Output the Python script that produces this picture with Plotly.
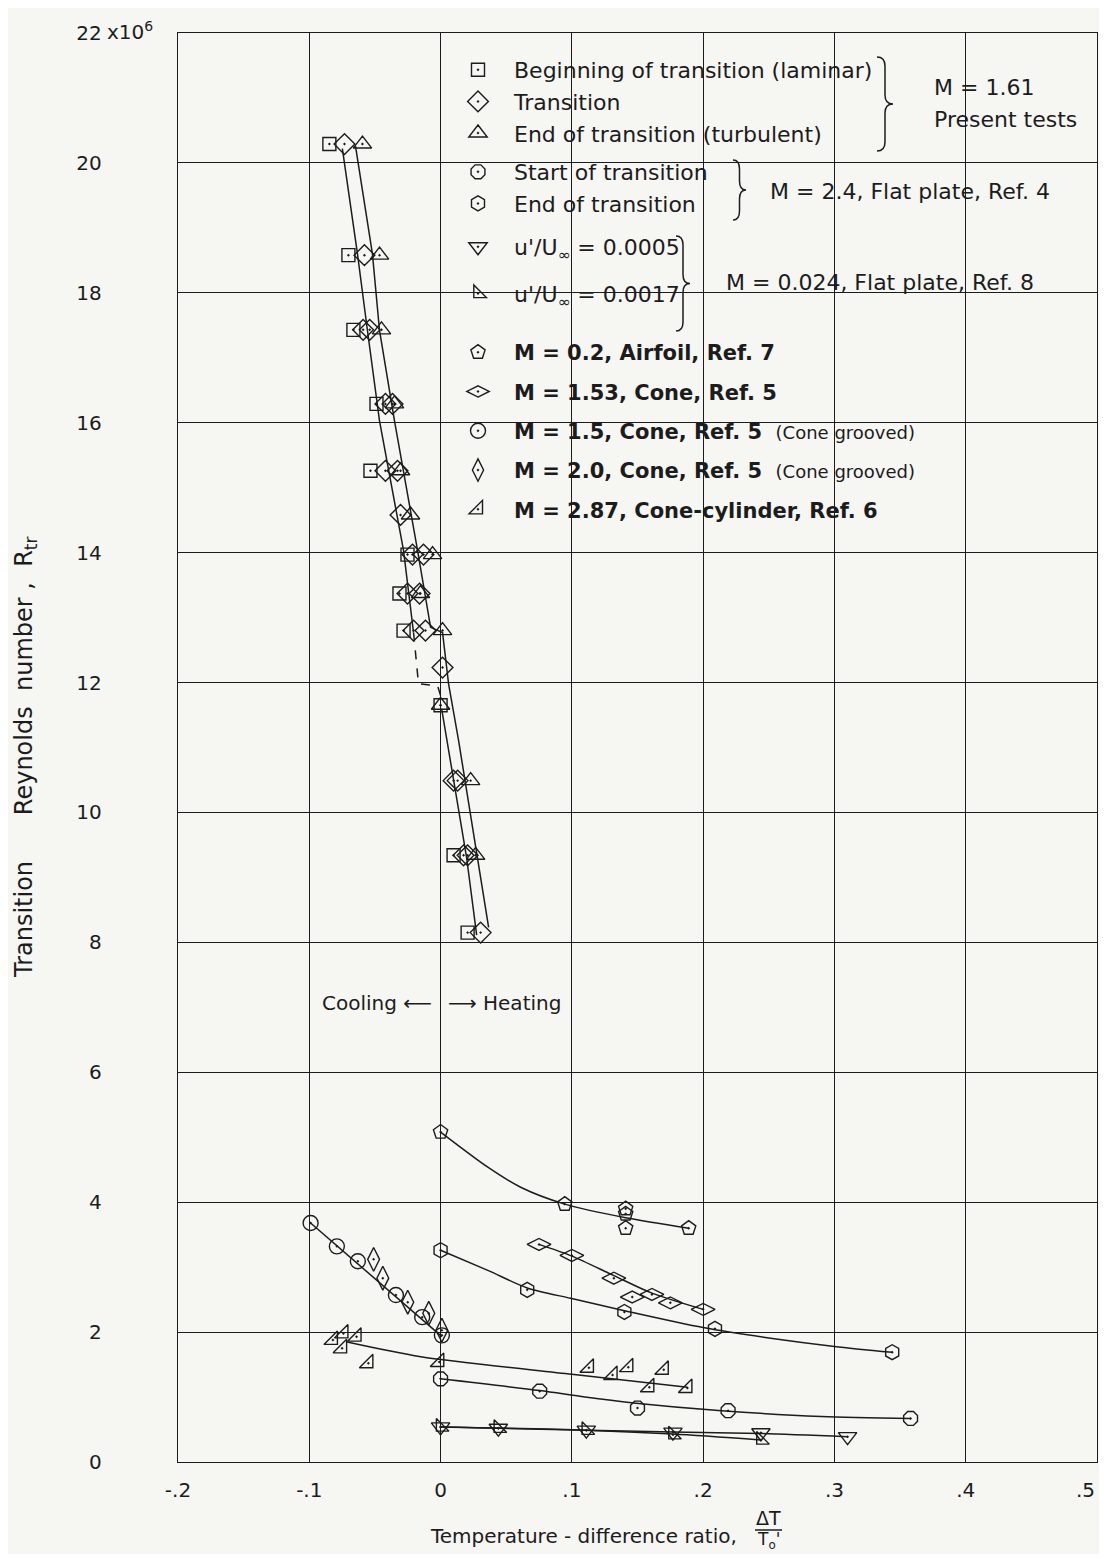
import plotly.graph_objects as go

# ---------------- data ----------------
# Present tests, M = 1.61
beg_x = [-0.0847, -0.0702, -0.0664, -0.0488, -0.0534, -0.0252, -0.0313, -0.0282, 0.0, 0.0099, 0.0206]
beg_y = [20.29, 18.58, 17.43, 16.29, 15.26, 13.97, 13.37, 12.80, 11.65, 9.34, 8.15]
tr_x = [-0.0732, -0.0580, -0.0590, -0.0540, -0.0420, -0.0366, -0.0420, -0.0328, -0.0305, -0.0214, -0.0130,
        -0.0252, -0.0160, -0.0206, -0.0115, 0.0015, 0.0099, 0.0130, 0.0175, 0.0206, 0.0305]
tr_y = [20.29, 18.58, 17.43, 17.43, 16.29, 16.29, 15.26, 15.26, 14.58, 13.97, 13.97,
        13.37, 13.37, 12.80, 12.80, 12.23, 10.49, 10.49, 9.34, 9.34, 8.15]
end_x = [-0.0595, -0.0465, -0.0450, -0.0351, -0.0305, -0.0229, -0.0061, -0.0153, 0.0015, 0.0, 0.0229, 0.0267]
end_y = [20.29, 18.58, 17.43, 16.29, 15.26, 14.58, 13.97, 13.37, 12.80, 11.65, 10.49, 9.34]

# faired curves through the present tests
curveL_x = [-0.0748, -0.0633, -0.0557, -0.0465, -0.0282, -0.0206]
curveL_y = [20.22, 18.60, 17.42, 16.03, 14.03, 12.77]
dashL_x = [-0.0206, -0.0168, -0.0023, 0.0]
dashL_y = [12.77, 11.98, 11.95, 11.80]
curveL2_x = [0.0008, 0.0099, 0.0198, 0.0275]
curveL2_y = [11.60, 10.48, 9.31, 8.11]
curveR_x = [-0.0648, -0.0519, -0.0465, -0.0351, -0.0175, -0.0076, 0.0015, 0.0061, 0.0137, 0.0366]
curveR_y = [20.26, 18.60, 17.42, 16.03, 14.03, 12.85, 12.77, 11.98, 11.11, 8.23]

# M = 2.4, flat plate, Ref. 4
start24_x = [0.0, 0.0755, 0.150, 0.219, 0.358]
start24_y = [1.28, 1.09, 0.83, 0.79, 0.67]
start24_cx = [0.0, 0.0755, 0.110, 0.147, 0.214, 0.290, 0.358]
start24_cy = [1.28, 1.10, 1.00, 0.91, 0.79, 0.70, 0.67]
end24_x = [0.0, 0.066, 0.140, 0.209, 0.344]
end24_y = [3.26, 2.65, 2.31, 2.05, 1.69]
end24_cx = [0.0, 0.036, 0.066, 0.099, 0.140, 0.200, 0.250, 0.300, 0.344]
end24_cy = [3.26, 2.95, 2.68, 2.52, 2.33, 2.07, 1.91, 1.78, 1.69]

# M = 0.024, flat plate, Ref. 8
u05_x = [0.0, 0.044, 0.111, 0.177, 0.244, 0.310]
u05_y = [0.54, 0.52, 0.49, 0.46, 0.45, 0.39]
u05_cx = [0.0, 0.111, 0.177, 0.244, 0.310]
u05_cy = [0.54, 0.49, 0.46, 0.44, 0.39]
u17_x = [0.0, 0.044, 0.111, 0.177, 0.244]
u17_y = [0.54, 0.52, 0.49, 0.42, 0.34]
u17_cx = [0.0, 0.111, 0.177, 0.244]
u17_cy = [0.54, 0.49, 0.43, 0.34]

# M = 0.2, airfoil, Ref. 7
air_x = [0.0, 0.0946, 0.141, 0.141, 0.141, 0.189]
air_y = [5.08, 3.97, 3.90, 3.82, 3.60, 3.60]
air_cx = [0.0, 0.036, 0.061, 0.0946, 0.141, 0.189]
air_cy = [5.08, 4.54, 4.23, 3.97, 3.76, 3.60]

# M = 1.53, cone, Ref. 5
c153_x = [0.075, 0.100, 0.132, 0.146, 0.161, 0.175, 0.200]
c153_y = [3.35, 3.18, 2.83, 2.54, 2.58, 2.45, 2.35]
c153_cx = [0.075, 0.100, 0.132, 0.161, 0.200]
c153_cy = [3.35, 3.17, 2.87, 2.60, 2.35]

# M = 1.5 and 2.0, grooved cones, Ref. 5
c15_x = [-0.099, -0.079, -0.063, -0.034, -0.014, 0.001]
c15_y = [3.68, 3.32, 3.09, 2.57, 2.23, 1.95]
c20_x = [-0.051, -0.044, -0.025, -0.009, 0.001]
c20_y = [3.12, 2.83, 2.46, 2.29, 2.03]
cool_cx = [-0.099, 0.001]
cool_cy = [3.68, 1.93]

# M = 2.87, cone-cylinder, Ref. 6
c287_x = [-0.082, -0.074, -0.064, -0.075, -0.055, -0.001, 0.113, 0.131, 0.143, 0.170, 0.159, 0.188]
c287_y = [1.88, 1.98, 1.93, 1.75, 1.52, 1.54, 1.45, 1.34, 1.46, 1.42, 1.15, 1.14]
c287_cx = [-0.072, -0.015, 0.100, 0.188]
c287_cy = [1.85, 1.62, 1.35, 1.15]

x_ticks = [-0.2, -0.1, 0.0, 0.1, 0.2, 0.3, 0.4, 0.5]
x_ticktext = ["-.2", "-.1", "0", ".1", ".2", ".3", ".4", ".5"]
y_ticks = [0, 2, 4, 6, 8, 10, 12, 14, 16, 18, 20, 22]
y_ticktext = ["0", "2", "4", "6", "8", "10", "12", "14", "16", "18", "20", "22"]

# ---------------- figure ----------------
FONT = "DejaVu Sans"
INK = "#1c1c1c"
BG = "#f6f6f3"
W, H = 1091, 1546           # page adds an 8 px body margin all round
ML, MR, MT, MB = 170, 2, 25, 92
# plot area as seen on screen
SX0, SY0 = 178, 33
PW, PH = W - ML - MR, H - MT - MB
SY1 = SY0 + PH


def px(xs):
    return (xs - SX0) / PW


def py(ys):
    return (SY1 - ys) / PH


fig = go.Figure()


def line(xs, ys, dash="solid", shape="linear"):
    fig.add_trace(go.Scatter(x=xs, y=ys, mode="lines", showlegend=False, hoverinfo="skip",
                             line=dict(color=INK, width=1.5, dash=dash, shape=shape, smoothing=0.8)))


def pts(xs, ys, name, symbol, size, legend, group):
    fig.add_trace(go.Scatter(x=xs, y=ys, mode="markers", name=name, legend=legend, legendgroup=group,
                             marker=dict(symbol=symbol, size=size, color=INK, line=dict(width=1.4, color=INK))))


# curves first (beneath markers)
line(curveL_x, curveL_y)
line(dashL_x, dashL_y, dash="dash")
line(curveL2_x, curveL2_y)
line(curveR_x, curveR_y)
line(air_cx, air_cy, shape="spline")
line(end24_cx, end24_cy, shape="spline")
line(c153_cx, c153_cy, shape="spline")
line(start24_cx, start24_cy, shape="spline")
line(cool_cx, cool_cy)
line(c287_cx, c287_cy, shape="spline")
line(u05_cx, u05_cy, shape="spline")
line(u17_cx, u17_cy, shape="spline")

GROOVED = "  <span style='font-size:18px'>(Cone grooved)</span>"
pts(beg_x, beg_y, "Beginning of transition (laminar)", "square-open-dot", 13, "legend", "g1")
pts(tr_x, tr_y, "Transition", "diamond-open-dot", 16, "legend", "g1")
pts(end_x, end_y, "End of transition (turbulent)", "triangle-up-open-dot", 16, "legend", "g1")
pts(start24_x, start24_y, "Start of transition", "octagon-open-dot", 15, "legend2", "g2")
pts(end24_x, end24_y, "End of transition", "hexagon-open-dot", 15, "legend2", "g2")
pts(u05_x, u05_y, "u'/U<sub>∞</sub> = 0.0005", "triangle-down-open-dot", 16, "legend3", "g3a")
pts(u17_x, u17_y, "u'/U<sub>∞</sub> = 0.0017", "triangle-sw-open-dot", 14, "legend3", "g3b")
pts(air_x, air_y, "<b>M = 0.2, Airfoil, Ref. 7</b>", "pentagon-open-dot", 15, "legend4", "s1")
pts(c153_x, c153_y, "<b>M = 1.53, Cone, Ref. 5</b>", "diamond-wide-open-dot", 17, "legend4", "s2")
pts(c15_x, c15_y, "<b>M = 1.5, Cone, Ref. 5</b>" + GROOVED, "circle-open-dot", 15, "legend4", "s3")
pts(c20_x, c20_y, "<b>M = 2.0, Cone, Ref. 5</b>" + GROOVED, "diamond-tall-open-dot", 17, "legend4", "s4")
pts(c287_x, c287_y, "<b>M = 2.87, Cone-cylinder, Ref. 6</b>", "triangle-se-open-dot", 15, "legend4", "s5")

legend_common = dict(x=px(442), xanchor="left", yanchor="top", bgcolor="rgba(0,0,0,0)", borderwidth=0,
                     traceorder="grouped", itemclick=False, itemwidth=62)
fig.update_layout(
    legend=dict(y=py(49), tracegroupgap=0, font=dict(family=FONT, size=22, color=INK), **legend_common),
    legend2=dict(y=py(151), tracegroupgap=0, font=dict(family=FONT, size=22, color=INK), **legend_common),
    legend3=dict(y=py(226), tracegroupgap=15, font=dict(family=FONT, size=22, color=INK), **legend_common),
    legend4=dict(y=py(332), tracegroupgap=9, font=dict(family=FONT, size=21, color=INK), **legend_common),
)

fig.update_xaxes(range=[-0.2, 0.5], tickvals=x_ticks, ticktext=x_ticktext, showgrid=True, gridcolor=INK,
                 gridwidth=1.4, zeroline=False, showline=True, linecolor=INK, linewidth=1.4, mirror=True,
                 ticks="", ticklabelstandoff=10, tickfont=dict(family=FONT, size=20, color=INK))
fig.update_yaxes(range=[0, 22], tickvals=y_ticks, ticktext=y_ticktext, showgrid=True, gridcolor=INK,
                 gridwidth=1.4, zeroline=False, showline=True, linecolor=INK, linewidth=1.4, mirror=True,
                 ticks="", ticklabelstandoff=71, tickfont=dict(family=FONT, size=20, color=INK))


def brace(x0, ytop, ybot, w):
    ym = (ytop + ybot) / 2
    r = min(9, (ybot - ytop) / 6)
    xm = x0 + w / 2
    p = lambda a, b: f"{px(a):.5f},{py(b):.5f}"
    return (f"M {p(x0, ytop)} Q {p(xm, ytop)} {p(xm, ytop + r)} L {p(xm, ym - r)} "
            f"Q {p(xm, ym)} {p(x0 + w, ym)} Q {p(xm, ym)} {p(xm, ym + r)} "
            f"L {p(xm, ybot - r)} Q {p(xm, ybot)} {p(x0, ybot)}")


shapes = []
for (bx, bt, bb, bw) in [(877, 57, 151, 16), (733, 160, 220, 13), (676, 236, 331, 14)]:
    shapes.append(dict(type="path", xref="paper", yref="paper", path=brace(bx, bt, bb, bw),
                       line=dict(color=INK, width=1.5)))
shapes.append(dict(type="line", xref="paper", yref="paper", x0=px(755), x1=px(782), y0=py(1530), y1=py(1530),
                   line=dict(color=INK, width=1.5)))

annots = []


def note(text, x, y, xanchor="left", size=22, angle=0, xref="paper"):
    annots.append(dict(text=text, x=x, y=y, xref=xref, yref="paper", xanchor=xanchor, yanchor="middle",
                       showarrow=False, textangle=angle, font=dict(family=FONT, size=size, color=INK)))


note("M = 1.61", px(932), py(88))
note("Present tests", px(932), py(119))
note("M = 2.4, Flat plate, Ref. 4", px(768), py(191))
note("M = 0.024, Flat plate, Ref. 8", px(724), py(282))
note("Cooling ⟵", px(434), py(1003), xanchor="right", size=20)
note("⟶ Heating", px(446), py(1003), size=20)
note("x10<sup>6</sup>", px(105), py(31), size=20)
# the last x tick label sits flush with the right frame, as in the original
note(x_ticktext[-1], x_ticks[-1], py(1490), xanchor="right", size=20, xref="x")
note("Transition      Reynolds  number ,  R<sub>tr</sub>", px(25), py(758), xanchor="center", size=24, angle=-90)
note("Temperature - difference ratio,", px(428), py(1536), size=20)
note("ΔT", px(768), py(1518), xanchor="center", size=19)
note("T<sub>o</sub>'", px(768), py(1541), xanchor="center", size=17)

fig.update_layout(width=W, height=H, margin=dict(l=ML, r=MR, t=MT, b=MB), paper_bgcolor=BG, plot_bgcolor=BG,
                  font=dict(family=FONT, color=INK), shapes=shapes, annotations=annots, hovermode=False)

fig.write_html("out.html")
